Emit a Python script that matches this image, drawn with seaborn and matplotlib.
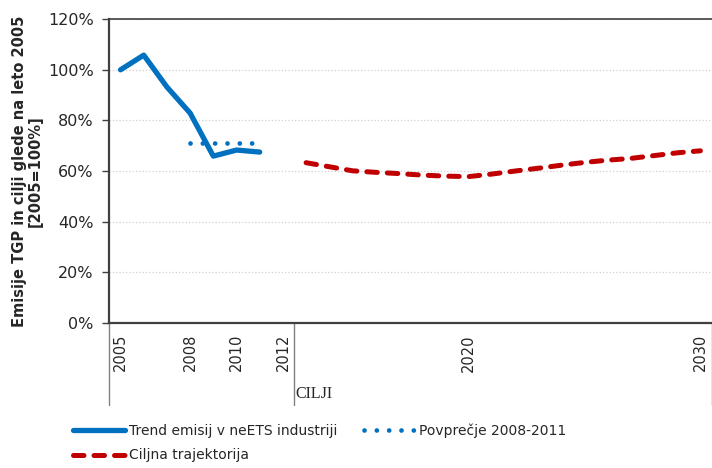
import numpy as np
import pandas as pd
import matplotlib.pyplot as plt
import seaborn as sns

# data (index 2005 = 100 %)
trend_years = [2005, 2006, 2007, 2008, 2009, 2010, 2011]
trend_vals = [100.0, 105.8, 93.2, 82.9, 65.9, 68.3, 67.5]

avg_years = [2008, 2009, 2010, 2011]
avg_vals = [71.1, 71.1, 71.1, 71.1]

target_years = list(range(2013, 2031))
target_vals = [63.3, 61.7, 60.1, 59.5, 59.0, 58.4, 58.0, 57.8, 58.8, 60.0,
               61.1, 62.3, 63.4, 64.3, 65.0, 66.1, 67.2, 68.0]

tick_years = [2005, 2008, 2010, 2012, 2020, 2030]
group_label = 'CILJI'

blue = '#0070C0'
red = '#C00000'
axis_col = '#404040'

sns.set_style('white')
plt.rcParams['font.family'] = ['DejaVu Sans']

fig = plt.figure(figsize=(7.12, 4.68), dpi=100)
ax = fig.add_axes([0.153, 0.310, 0.847, 0.649])

df_trend = pd.DataFrame({'leto': trend_years, 'val': trend_vals})
df_avg = pd.DataFrame({'leto': avg_years, 'val': avg_vals})
df_target = pd.DataFrame({'leto': target_years, 'val': target_vals})

sns.lineplot(data=df_trend, x='leto', y='val', ax=ax, color=blue, lw=3.8,
             solid_capstyle='round', solid_joinstyle='round',
             label='Trend emisij v neETS industriji')
sns.lineplot(data=df_avg, x='leto', y='val', ax=ax, color=blue, lw=3.4,
             dashes=False, label='Povprečje 2008-2011')
ax.lines[-1].set_linestyle((0, (0.01, 2.6)))
ax.lines[-1].set_dash_capstyle('round')
sns.lineplot(data=df_target, x='leto', y='val', ax=ax, color=red, lw=3.6,
             label='Ciljna trajektorija')
ax.lines[-1].set_linestyle((0, (2.1, 2.0)))
ax.lines[-1].set_dash_capstyle('round')

ax.set_xlim(2004.5, 2030.5)
ax.set_ylim(0, 120)
ax.set_yticks(np.arange(0, 121, 20))
ax.set_yticklabels([f'{v}%' for v in range(0, 121, 20)], fontsize=11.5)
ax.yaxis.grid(True, color='#d0d0d0', linestyle=':', lw=0.9)
ax.tick_params(axis='y', length=5, width=1, color=axis_col, left=True, pad=6)

ax.set_xticks(tick_years)
ax.set_xticklabels([str(y) for y in tick_years], rotation=90, fontsize=10.5)
ax.tick_params(axis='x', length=0, pad=8)
ax.set_xlabel('')
ax.set_ylabel('Emisije TGP in cilji glede na leto 2005\n[2005=100%]',
              fontsize=10.5, fontweight='bold', labelpad=4, linespacing=1.0)

for side in ['left', 'bottom', 'top']:
    ax.spines[side].set_color(axis_col)
    ax.spines[side].set_linewidth(1.6)
ax.spines['top'].set_linewidth(1.2)
ax.spines['right'].set_visible(False)

# group separators under the category axis
trans = ax.get_xaxis_transform()
for xs in [2004.5, 2012.5, 2030.5]:
    ax.plot([xs, xs], [0, -0.27], transform=trans, color='#808080', lw=1,
            clip_on=False)
ax.text(2012.55, -0.235, group_label, transform=trans, ha='left', va='center',
        fontsize=11.5, family='Liberation Serif')

handles, labels = ax.get_legend_handles_labels()
ax.get_legend().remove()
order = [0, 2, 1]
fig.legend([handles[i] for i in order], [labels[i] for i in order],
           loc='upper left', bbox_to_anchor=(0.095, 0.107), ncol=2,
           frameon=False, fontsize=10, handlelength=3.7, handletextpad=0.3,
           columnspacing=1.9, labelspacing=0.75, borderaxespad=0)

fig.savefig('out.png', dpi=100)
